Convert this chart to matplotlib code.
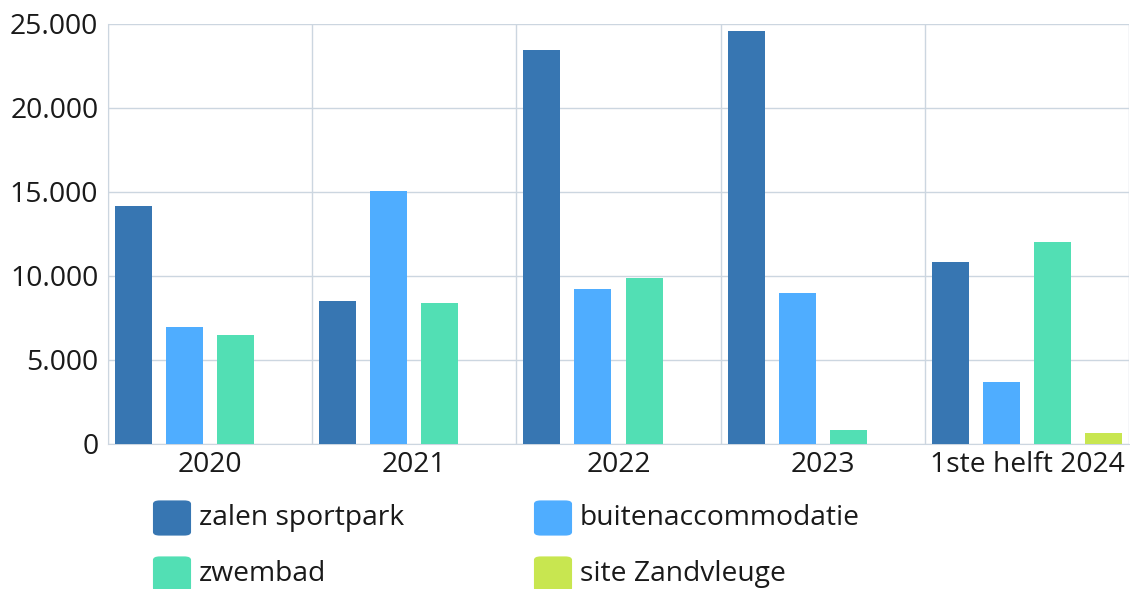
import numpy as np
import matplotlib
matplotlib.use("Agg")
import matplotlib.pyplot as plt
from matplotlib.patches import FancyBboxPatch
from matplotlib.ticker import FuncFormatter

plt.rcParams['font.family'] = ['Open Sans', 'DejaVu Sans']

categories = ['2020', '2021', '2022', '2023', '1ste helft 2024']
series_names = ['zalen sportpark', 'buitenaccommodatie', 'zwembad', 'site Zandvleuge']
zalen_sportpark = [14150, 8520, 23450, 24570, 10840]
buitenaccommodatie = [6950, 15080, 9230, 8960, 3720]
zwembad = [6500, 8400, 9860, 820, 12040]
site_zandvleuge = [np.nan, np.nan, np.nan, np.nan, 680]
colors = ['#3776b2', '#4fadff', '#52dfb4', '#c8e650']

series = [zalen_sportpark, buitenaccommodatie, zwembad, site_zandvleuge]

fig = plt.figure(figsize=(11.3, 5.89), dpi=100)
ax = fig.add_axes([108 / 1130, 145 / 589, 1021 / 1130, 420 / 589])

grid_c = '#ccd6e0'
txt_c = '#1a1a1a'
fs = 20.3
n = len(series)
slot = 1.0 / n
bw = slot * 0.725
x = np.arange(len(categories))
for i, (vals, col) in enumerate(zip(series, colors)):
    pos = x - 0.5 + slot * (i + 0.5)
    ax.bar(pos, vals, width=bw, color=col, zorder=3)

ax.set_xlim(-0.5, len(categories) - 0.5)
ax.set_ylim(0, 25000)
ax.set_yticks(np.arange(0, 25001, 5000))
ax.yaxis.set_major_formatter(FuncFormatter(lambda v, p: f"{int(v):,}".replace(',', '.')))
ax.set_xticks(x)
ax.set_xticklabels(categories)
ax.set_xticks(np.arange(-0.5, len(categories)), minor=True)
ax.tick_params(axis='both', which='both', length=0, labelsize=fs, colors=txt_c)
ax.tick_params(axis='y', pad=7)
ax.tick_params(axis='x', pad=5)
ax.grid(True, axis='y', which='major', color=grid_c, linewidth=1, zorder=0)
ax.grid(True, axis='x', which='minor', color=grid_c, linewidth=1, zorder=0)
ax.grid(False, axis='x', which='major')
for s in ['top', 'right']:
    ax.spines[s].set_visible(False)
for s in ['left', 'bottom']:
    ax.spines[s].set_color(grid_c)

# legend, two columns of rounded swatches
leg_x = [153, 534]
leg_y = [518, 574]
sw = 38
for i, (name, col) in enumerate(zip(series_names, colors)):
    cx = leg_x[i % 2]
    cy = leg_y[i // 2]
    p = FancyBboxPatch(((cx + 3) / 1130, (589 - cy - sw / 2 + 3) / 589),
                       (sw - 6) / 1130, (sw - 6) / 589,
                       boxstyle="round,pad=0.0027,rounding_size=0.006",
                       transform=fig.transFigure, facecolor=col, edgecolor='none')
    fig.patches.append(p)
    fig.text((cx + sw + 8) / 1130, (589 - cy) / 589, name, fontsize=fs,
             color=txt_c, va='center', ha='left')

fig.savefig('out.png', dpi=100)
